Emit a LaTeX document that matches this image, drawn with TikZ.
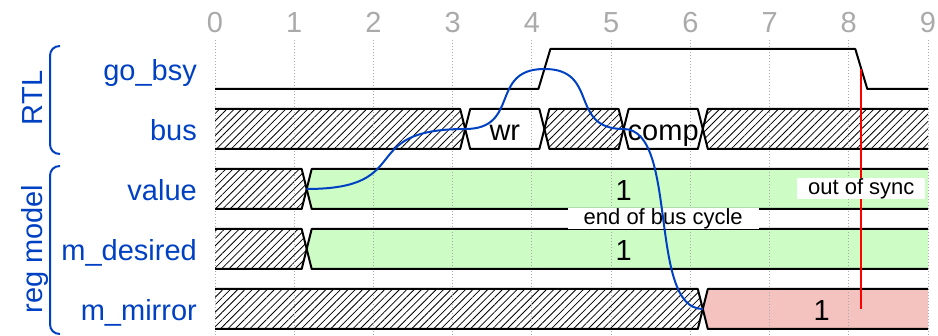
\documentclass[tikz,border=0pt]{standalone}
\usepackage{fontspec}
\setmainfont{Liberation Sans}
\usetikzlibrary{patterns.meta,calc}
\definecolor{wblue}{HTML}{0041C4}
\definecolor{wgreen}{HTML}{CDFDC5}
\definecolor{wpink}{HTML}{F5C3BF}
\definecolor{wgrey}{HTML}{AAAAAA}
\begin{document}
\begin{tikzpicture}[x=1pt,y=-1pt,
  wave/.style={black,line width=2pt,line join=round},
  hatch/.style={pattern={Lines[angle=45,distance=5.2pt,line width=0.8pt]}},
  gridl/.style={wgrey,line width=0.8pt,dash pattern=on 1pt off 2pt},
  big/.style={font=\fontsize{29}{34}\selectfont,inner sep=0pt},
  sig/.style={big,wblue,anchor=base east},
  grp/.style={big,wblue,rotate=90,anchor=base},
  tick/.style={big,wgrey,anchor=base},
  dat/.style={big,black,anchor=base},
  edgel/.style={wblue,line width=2pt},
  lbl/.style={fill=white,font=\fontsize{22}{26}\selectfont,inner sep=0pt,minimum height=21pt},
  brk/.style={wblue,line width=2pt}]
\useasboundingbox (0,0) rectangle (938,336);

% fills
\fill[hatch] (215,109) -- (460.2,109) -- (465.2,129) -- (460.2,149) -- (215,149) -- cycle;
\fill[hatch] (549.4,109) -- (618.6,109) -- (623.6,129) -- (618.6,149) -- (549.4,149) -- (544.4,129) -- cycle;
\fill[hatch] (707.8,109) -- (928,109) -- (928,149) -- (707.8,149) -- (702.8,129) -- cycle;
\fill[hatch] (215,169) -- (301.7,169) -- (306.7,189) -- (301.7,209) -- (215,209) -- cycle;
\fill[wgreen] (311.7,169) -- (928,169) -- (928,209) -- (311.7,209) -- (306.7,189) -- cycle;
\fill[hatch] (215,229) -- (301.7,229) -- (306.7,249) -- (301.7,269) -- (215,269) -- cycle;
\fill[wgreen] (311.7,229) -- (928,229) -- (928,269) -- (311.7,269) -- (306.7,249) -- cycle;
\fill[hatch] (215,289) -- (697.8,289) -- (702.8,309) -- (697.8,329) -- (215,329) -- cycle;
\fill[wpink] (707.8,289) -- (928,289) -- (928,329) -- (707.8,329) -- (702.8,309) -- cycle;

% grid and ticks
\foreach \t/\x in {0/215,1/294.22,2/373.44,3/452.67,4/531.89,5/611.11,6/690.33,7/769.56,8/848.78,9/928}{
  \draw[gridl] (\x,40) -- (\x,336);
  \node[tick] (tick\t) at (\x,32.3) {\t};
}

% outlines
\draw[wave] (215,89) -- (538.4,89) -- (550.4,49) -- (855.3,49) -- (867.3,89) -- (928,89);
\draw[wave] (215,109) -- (460.2,109) -- (465.2,129) -- (460.2,149) -- (215,149);
\draw[wave] (465.2,129) -- (470.2,109) -- (539.4,109) -- (544.4,129) -- (539.4,149) -- (470.2,149) -- cycle;
\draw[wave] (544.4,129) -- (549.4,109) -- (618.6,109) -- (623.6,129) -- (618.6,149) -- (549.4,149) -- cycle;
\draw[wave] (623.6,129) -- (628.6,109) -- (697.8,109) -- (702.8,129) -- (697.8,149) -- (628.6,149) -- cycle;
\draw[wave] (928,109) -- (707.8,109) -- (702.8,129) -- (707.8,149) -- (928,149);
\draw[wave] (215,169) -- (301.7,169) -- (306.7,189) -- (301.7,209) -- (215,209);
\draw[wave] (928,169) -- (311.7,169) -- (306.7,189) -- (311.7,209) -- (928,209);
\draw[wave] (215,229) -- (301.7,229) -- (306.7,249) -- (301.7,269) -- (215,269);
\draw[wave] (928,229) -- (311.7,229) -- (306.7,249) -- (311.7,269) -- (928,269);
\draw[wave] (215,289) -- (697.8,289) -- (702.8,309) -- (697.8,329) -- (215,329);
\draw[wave] (928,289) -- (707.8,289) -- (702.8,309) -- (707.8,329) -- (928,329);

% data labels
\node[dat] (dwr) at (504.8,141) {wr};
\node[dat] (dcomp) at (663.2,141) {comp};
\node[dat] (dval) at (623.6,201) {1};
\node[dat] (ddes) at (623.6,261) {1};
\node[dat] (dmir) at (821.6,321) {1};

% signal names
\node[sig] (ngo) at (197,81) {go\_bsy};
\node[sig] (nbus) at (197,141) {bus};
\node[sig] (nval) at (197,201) {value};
\node[sig] (ndes) at (197,261) {m\_desired};
\node[sig] (nmir) at (197,321) {m\_mirror};

% groups
\draw[brk] (60,46) .. controls (54,46) and (50,50) .. (50,56) -- (50,144) .. controls (50,150) and (54,154) .. (60,154);
\draw[brk] (60,166) .. controls (54,166) and (50,170) .. (50,176) -- (50,324) .. controls (50,330) and (54,334) .. (60,334);
\node[grp] (grtl) at (42,98) {RTL};
\node[grp] (greg) at (42,249) {reg model};

% edge points
\coordinate (v1) at (306.7,189);
\coordinate (b3) at (465.2,129);
\coordinate (g4) at (544.4,69);
\coordinate (b5) at (623.6,129);
\coordinate (m6) at (702.8,309);
\coordinate (g8) at (861.3,69);
\coordinate (m8) at (861.3,309);

% red edge with label
\draw[red,line width=2pt] (g8) -- (m8);
\node[lbl,minimum width=128pt] (loos) at ($(g8)!0.5!(m8)$) {out of sync};
\node[lbl,minimum width=191pt] (leob) at ($(b5)!0.5!(m6)$) {end of bus cycle};

% blue edges
\draw[edgel] (v1) .. controls +(111,0) and +(-111,0) .. (b3);
\draw[edgel] (b3) .. controls +(55.4,0) and +(-55.4,0) .. (g4);
\draw[edgel] (g4) .. controls +(55.4,0) and +(-55.4,0) .. (b5);
\draw[edgel] (b5) .. controls +(55.4,0) and +(-55.4,0) .. (m6);
\end{tikzpicture}
\end{document}
